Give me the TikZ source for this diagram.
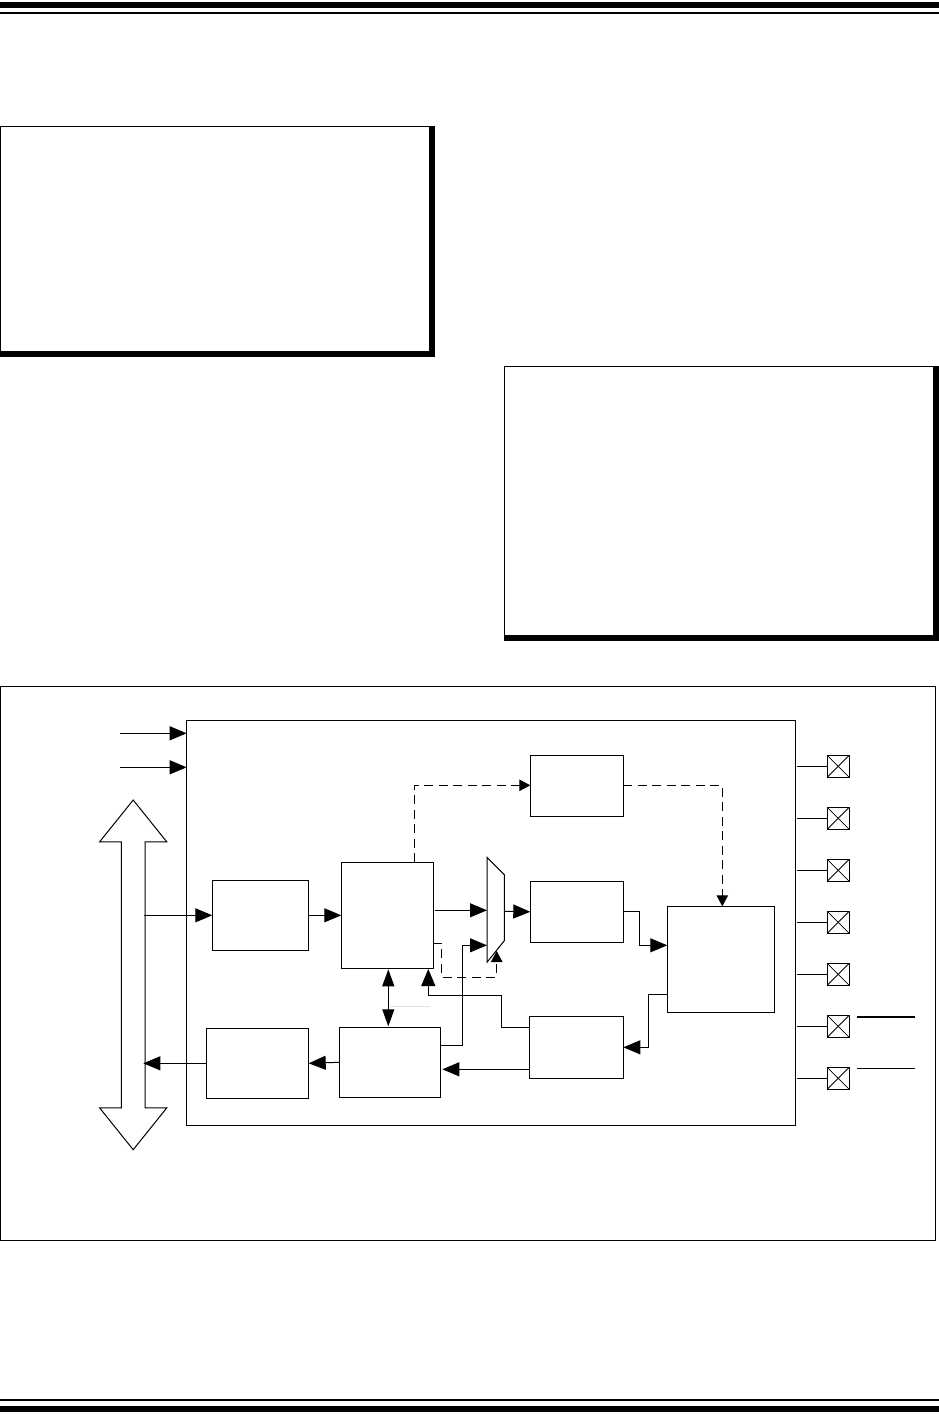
\documentclass[tikz,border=0pt]{standalone}
\usetikzlibrary{arrows.meta,shapes.arrows}
\tikzset{
  blockbox/.style={draw,line width=1pt,inner sep=0pt,outer sep=0pt},
  padbox/.style={draw,line width=1pt,inner sep=0pt,outer sep=0pt,minimum size=21.7pt},
  wire/.style={line width=1pt,-{Triangle[length=17pt,width=14pt]}},
  bothwire/.style={line width=1pt,{Triangle[length=17pt,width=12pt]}-{Triangle[length=17pt,width=12pt]}},
  dashwire/.style={line width=1pt,dash pattern=on 9pt off 5.5pt,-{Triangle[length=11pt,width=11.5pt]}},
  plainwire/.style={line width=1pt}
}
\begin{document}
\begin{tikzpicture}[x=1pt,y=-1pt]
\useasboundingbox (0,0) rectangle (939,1428);
\fill (0,2) rectangle (939,8);
\fill (0,12) rectangle (939,14);
\fill (0,1399) rectangle (939,1401);
\fill (0,1406) rectangle (939,1412);
\fill (0,126) rectangle (435,357);
\fill[white] (1,127) rectangle (429,351);
\fill (504,366) rectangle (939,641);
\fill[white] (505,367) rectangle (933,635);
\draw[line width=1pt] (0.5,686.5) rectangle (935,1240);
\node[blockbox,minimum width=608.6pt,minimum height=404.7pt] (chip) at (491,922.7) {};
\node[draw,line width=1pt,double arrow,shape border rotate=90,inner sep=11.3pt,outer sep=0pt,minimum height=349.7pt,minimum width=66.3pt,double arrow head extend=21.85pt,double arrow tip angle=77.5] (bus) at (133.2,974.85) {};
\node[blockbox,minimum width=96.4pt,minimum height=70pt] (inbuf) at (260.5,915.3) {};
\node[blockbox,minimum width=92pt,minimum height=106pt] (ctrl) at (387.3,915.3) {};
\node[blockbox,minimum width=102.4pt,minimum height=70pt] (outbuf) at (257.5,1063.3) {};
\node[blockbox,minimum width=101pt,minimum height=70pt] (shift) at (389.8,1062.3) {};
\node[blockbox,minimum width=93pt,minimum height=61pt] (timer) at (576.8,785.8) {};
\node[blockbox,minimum width=93pt,minimum height=61pt] (data) at (576.8,911.8) {};
\node[blockbox,minimum width=94pt,minimum height=62pt] (status) at (576.3,1047.3) {};
\node[blockbox,minimum width=107.4pt,minimum height=106pt] (logic) at (721,959.3) {};
\draw[plainwire] (487,857.3) -- (504.3,874.7) -- (504.3,940.7) -- (487,962.3) -- cycle;
\coordinate (clka) at (120,733.3);
\coordinate (clkb) at (120,767.3);
\coordinate (muxa) at (487,910.3);
\coordinate (muxb) at (487,945.3);
\coordinate (muxs) at (496.7,951);
\coordinate (muxo) at (504.3,911.3);
\coordinate (busin) at (144.3,915.3);
\coordinate (busout) at (143.3,1063.3);
\draw[wire] (clka) -- (clka -| chip.west);
\draw[wire] (clkb) -- (clkb -| chip.west);
\draw[wire] (busin) -- (inbuf.west);
\draw[wire] (inbuf.east) -- (ctrl.west);
\draw[wire] (shift.west) -- (outbuf.east);
\draw[wire] (outbuf.west) -- (busout);
\draw[bothwire] (388.3,969.3) -- (388.3,1026.3);
\draw[line width=1pt,black!12] (390,1006) -- (430,1006);
\draw[wire] (435,910.3) -- (muxa);
\draw[wire] (muxo) -- (data.west);
\draw[wire] (shift.east |- 0,1045.3) -- (462.3,1045.3) -- (462.3,945.3) -- (muxb);
\draw[wire] (status.west |- 0,1027.3) -- (501.3,1027.3) -- (501.3,995.7) -- (428.3,995.7) -- (428.3,969);
\draw[wire] (status.west |- 0,1069.3) -- (442.3,1069.3);
\draw[wire] (data.east) -- (639.3,911.8) -- (639.3,945.3) -- (logic.west |- 0,945.3);
\draw[wire] (logic.west |- 0,994.3) -- (648.3,994.3) -- (648.3,1047.3) -- (status.east);
\draw[dashwire] (414.3,862.3) -- (414.3,785.3) -- (timer.west |- 0,785.3);
\draw[dashwire] (timer.east |- 0,785.3) -- (722.3,785.3) -- (722.3,906.3);
\draw[dashwire] (ctrl.east |- 0,943.3) -- (441.7,943.3) -- (441.7,977.3) -- (496.7,977.3) -- (muxs);
\foreach \n/\y in {1/766.3,2/818.3,3/870.3,4/922.3,5/974.3,6/1026.3,7/1078.3} {
  \node[padbox] (pad\n) at (838.2,\y) {};
  \draw[line width=0.8pt] (pad\n.north west) -- (pad\n.south east);
  \draw[line width=0.8pt] (pad\n.north east) -- (pad\n.south west);
  \coordinate (stub\n) at (797,\y);
  \draw[plainwire] (stub\n) -- (pad\n.west);
}
\draw[line width=2pt] (857,1016.7) -- (915,1016.7);
\draw[line width=1pt] (857,1068.3) -- (915,1068.3);
\end{tikzpicture}
\end{document}
